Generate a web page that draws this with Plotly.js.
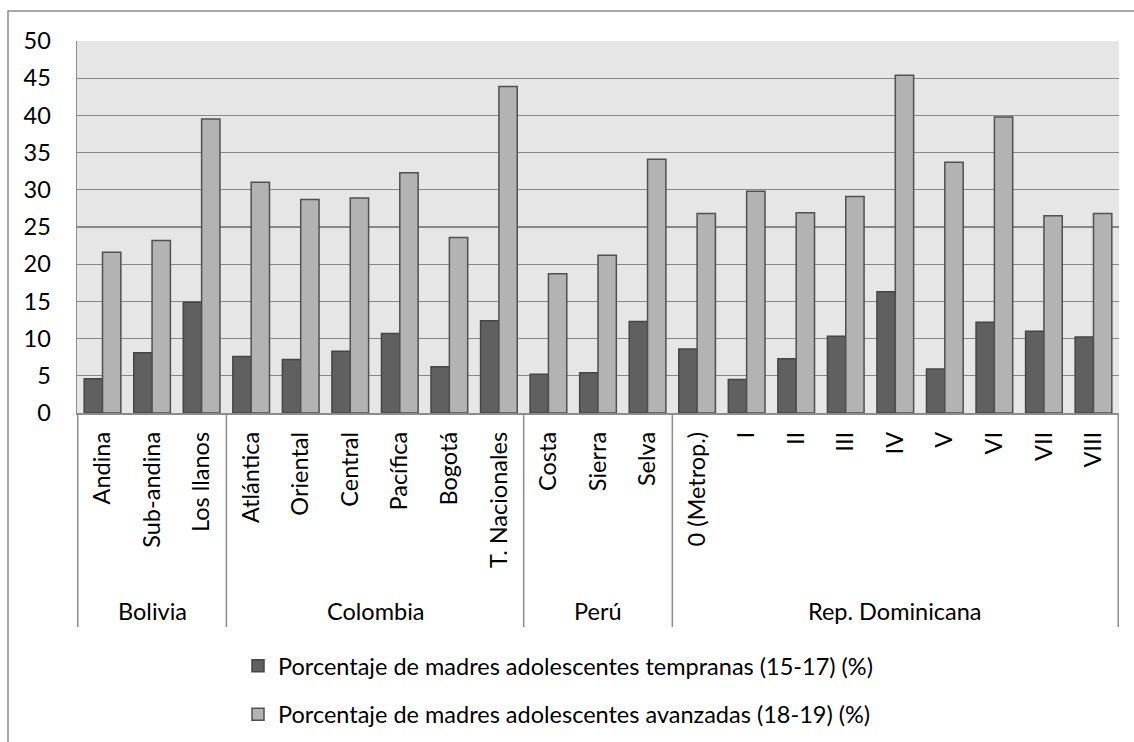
<!DOCTYPE html>
<html>
<head>
<meta charset="utf-8">
<script src="https://cdn.plot.ly/plotly-3.0.1.min.js"></script>
<style>
  html, body { margin: 0; padding: 0; background: #ffffff; }
  #chart { width: 1134px; height: 742px; }
</style>
</head>
<body>
<div id="chart"></div>
<script>
// ---- Data ----
const groups = ["Bolivia", "Colombia", "Perú", "Rep. Dominicana"];
const groupSizes = [3, 6, 3, 9];
const categories = [
  "Andina", "Sub-andina", "Los llanos",
  "Atlántica", "Oriental", "Central", "Pacífica", "Bogotá", "T. Nacionales",
  "Costa", "Sierra", "Selva",
  "0 (Metrop.)", "I", "II", "III", "IV", "V", "VI", "VII", "VIII"
];
const tempranas = [
  4.6, 8.1, 14.9,
  7.6, 7.2, 8.3, 10.7, 6.2, 12.4,
  5.2, 5.4, 12.3,
  8.6, 4.5, 7.3, 10.3, 16.3, 5.9, 12.2, 11.0, 10.2
];
const avanzadas = [
  21.6, 23.2, 39.5,
  31.0, 28.7, 28.9, 32.3, 23.6, 43.9,
  18.7, 21.2, 34.1,
  26.8, 29.8, 26.9, 29.1, 45.4, 33.7, 39.8, 26.5, 26.8
];
const seriesNames = [
  "Porcentaje de madres adolescentes tempranas (15-17) (%)",
  "Porcentaje de madres adolescentes avanzadas (18-19) (%)"
];
const yTicks = [0, 5, 10, 15, 20, 25, 30, 35, 40, 45, 50];

// ---- Geometry helpers (pixels) ----
const W = 1134, H = 742;
const M = { l: 77, r: 15, t: 41, b: 329, autoexpand: false };
const plotW = W - M.l - M.r, plotH = H - M.t - M.b;
const pxToPaperY = (py) => (H - M.b - py) / plotH;
const pxToPaperX = (px) => (px - M.l) / plotW;

const FONT = "Lato, 'Open Sans', sans-serif";
const FS = 23.5;

const traces = [
  {
    type: "bar", name: seriesNames[0], x: categories, y: tempranas,
    marker: { color: "#606060", line: { color: "#454545", width: 1.5 } },
    legendgroup: "a", hoverinfo: "x+y"
  },
  {
    type: "bar", name: seriesNames[1], x: categories, y: avanzadas,
    marker: { color: "#b3b3b3", line: { color: "#505050", width: 1.5 } },
    legendgroup: "b", hoverinfo: "x+y"
  }
];

// group dividers and labels
const shapes = [];
const annotations = [];
let start = 0;
const dividerBottom = pxToPaperY(627);
shapes.push({ type: "line", xref: "x", yref: "paper", x0: -0.5, x1: -0.5, y0: 0, y1: dividerBottom,
  line: { color: "#8c8c8c", width: 1.5 } });
groups.forEach((g, i) => {
  const n = groupSizes[i];
  const end = start + n - 1;
  annotations.push({
    xref: "x", yref: "paper", x: (start + end) / 2, y: pxToPaperY(611),
    text: g, showarrow: false, xanchor: "center", yanchor: "middle",
    font: { family: FONT, size: FS, color: "#000000" }
  });
  shapes.push({ type: "line", xref: "x", yref: "paper", x0: end + 0.5, x1: end + 0.5, y0: 0, y1: dividerBottom,
    line: { color: "#8c8c8c", width: 1.5 } });
  start += n;
});
// outer chart frame
shapes.push({ type: "rect", xref: "paper", yref: "paper",
  x0: pxToPaperX(8), x1: pxToPaperX(1150), y0: pxToPaperY(11), y1: pxToPaperY(760),
  line: { color: "#8c8c8c", width: 1.5 }, fillcolor: "rgba(0,0,0,0)", layer: "below" });

const layout = {
  width: W, height: H,
  margin: M,
  paper_bgcolor: "#ffffff",
  plot_bgcolor: "#e6e6e6",
  font: { family: FONT, size: FS, color: "#000000" },
  barmode: "group",
  bargap: 0.26,
  bargroupgap: 0,
  showlegend: true,
  legend: {
    orientation: "v", traceorder: "grouped", tracegroupgap: 15,
    x: pxToPaperX(238), xanchor: "left",
    y: pxToPaperY(644), yanchor: "top",
    font: { family: FONT, size: FS, color: "#000000" },
    bgcolor: "rgba(0,0,0,0)", itemwidth: 30
  },
  xaxis: {
    type: "category",
    tickangle: -90,
    ticks: "outside", ticklen: 8, tickcolor: "rgba(0,0,0,0)",
    showline: true, linecolor: "#8c8c8c", linewidth: 1.5,
    showgrid: false, zeroline: false, automargin: false,
    tickfont: { family: FONT, size: FS, color: "#000000" },
    fixedrange: true
  },
  yaxis: {
    range: [0, 50],
    tickvals: yTicks, ticktext: yTicks.map(String),
    ticks: "outside", ticklen: 20, tickcolor: "rgba(0,0,0,0)",
    showline: true, linecolor: "#8c8c8c", linewidth: 1.5,
    showgrid: true, gridcolor: "#878787", gridwidth: 1.3,
    zeroline: false, automargin: false,
    tickfont: { family: FONT, size: FS, color: "#000000" },
    fixedrange: true
  },
  shapes: shapes,
  annotations: annotations
};

Plotly.newPlot("chart", traces, layout, { displayModeBar: false, staticPlot: true });
</script>
</body>
</html>
